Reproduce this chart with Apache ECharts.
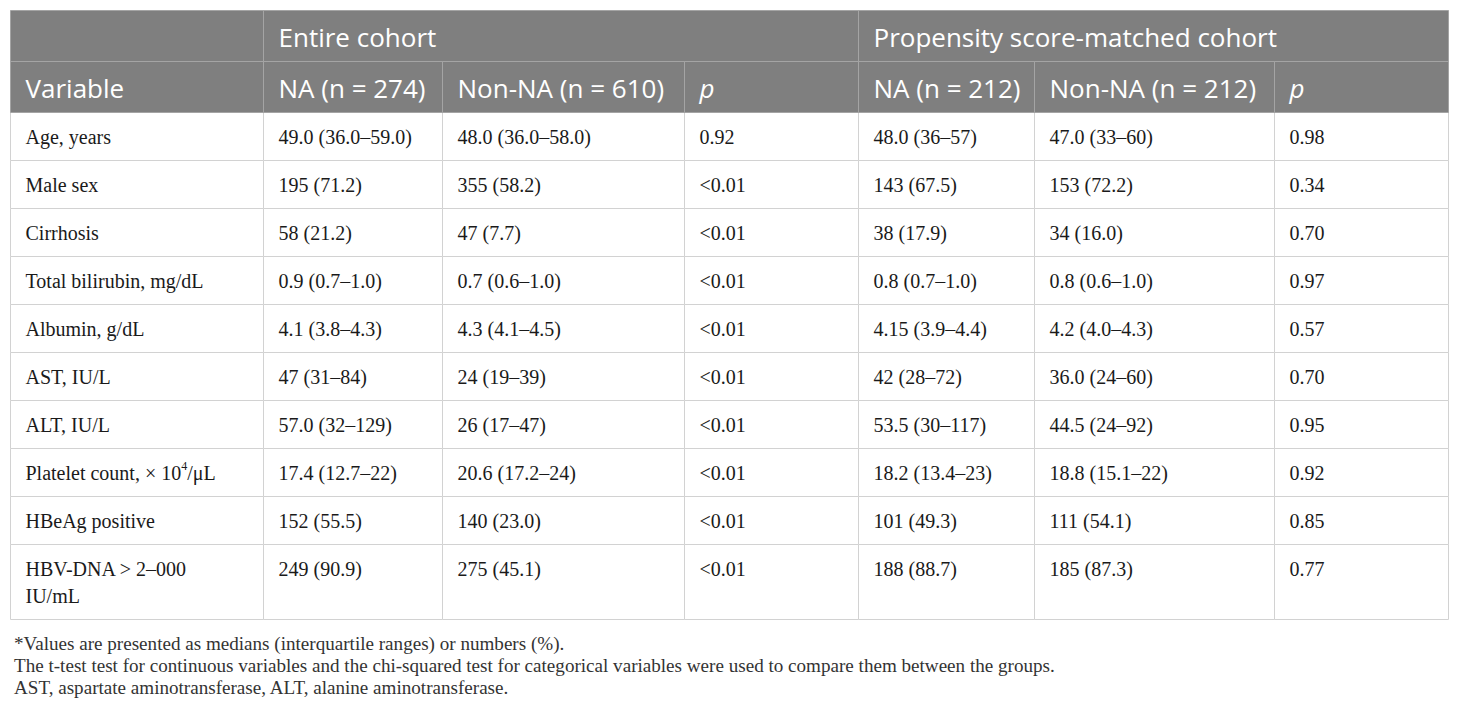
<!DOCTYPE html>
<html lang="en">
<head>
<meta charset="UTF-8">
<title>NA vs Non-NA cohort characteristics</title>
<script src="https://cdn.jsdelivr.net/npm/echarts@6/dist/echarts.min.js"></script>
<style>
    html, body { margin: 0; padding: 0; background: #fff; }
    #main { width: 1460px; height: 708px; }
</style>
</head>
<body>
<div id="main"></div>
<script>
    // table content
    var groupHeaders = ['Entire cohort', 'Propensity score-matched cohort'];
    var columnHeaders = ['Variable', 'NA (n = 274)', 'Non-NA (n = 610)', 'p', 'NA (n = 212)', 'Non-NA (n = 212)', 'p'];
    var variables = ['Age, years', 'Male sex', 'Cirrhosis', 'Total bilirubin, mg/dL', 'Albumin, g/dL',
        'AST, IU/L', 'ALT, IU/L', 'Platelet count, × 10{sup|4}/μL', 'HBeAg positive', 'HBV-DNA > 2–000\nIU/mL'];
    var entireNA = ['49.0 (36.0–59.0)', '195 (71.2)', '58 (21.2)', '0.9 (0.7–1.0)', '4.1 (3.8–4.3)',
        '47 (31–84)', '57.0 (32–129)', '17.4 (12.7–22)', '152 (55.5)', '249 (90.9)'];
    var entireNonNA = ['48.0 (36.0–58.0)', '355 (58.2)', '47 (7.7)', '0.7 (0.6–1.0)', '4.3 (4.1–4.5)',
        '24 (19–39)', '26 (17–47)', '20.6 (17.2–24)', '140 (23.0)', '275 (45.1)'];
    var entireP = ['0.92', '<0.01', '<0.01', '<0.01', '<0.01', '<0.01', '<0.01', '<0.01', '<0.01', '<0.01'];
    var matchedNA = ['48.0 (36–57)', '143 (67.5)', '38 (17.9)', '0.8 (0.7–1.0)', '4.15 (3.9–4.4)',
        '42 (28–72)', '53.5 (30–117)', '18.2 (13.4–23)', '101 (49.3)', '188 (88.7)'];
    var matchedNonNA = ['47.0 (33–60)', '153 (72.2)', '34 (16.0)', '0.8 (0.6–1.0)', '4.2 (4.0–4.3)',
        '36.0 (24–60)', '44.5 (24–92)', '18.8 (15.1–22)', '111 (54.1)', '185 (87.3)'];
    var matchedP = ['0.98', '0.34', '0.70', '0.97', '0.57', '0.70', '0.95', '0.92', '0.85', '0.77'];
    var footnotes = [
        '*Values are presented as medians (interquartile ranges) or numbers (%).',
        'The t-test test for continuous variables and the chi-squared test for categorical variables were used to compare them between the groups.',
        'AST, aspartate aminotransferase, ALT, alanine aminotransferase.'
    ];

    // layout
    var colWidths = [253, 179, 242, 174, 176, 240, 174];
    var headRowH = 51, bodyRowH = 48, extraLineH = 27;
    var pad = 15;
    var headFont = 'Open Sans', bodyFont = 'Liberation Serif';

    var colStart = [0];
    colWidths.forEach(function (w, i) { colStart.push(colStart[i] + w); });
    var totalW = colStart[colStart.length - 1];

    var columns = [variables, entireNA, entireNonNA, entireP, matchedNA, matchedNonNA, matchedP];
    var cells = [];
    function addCell(c0, c1, y0, y1, text, kind, italic) {
        cells.push({ box: [colStart[c0], y0, colStart[c1], y1], text: text, kind: kind, italic: !!italic });
    }
    // header rows
    addCell(0, 1, 0, headRowH, '', 'head');
    addCell(1, 4, 0, headRowH, groupHeaders[0], 'head');
    addCell(4, 7, 0, headRowH, groupHeaders[1], 'head');
    columnHeaders.forEach(function (t, i) {
        addCell(i, i + 1, headRowH, headRowH * 2, t, 'head', t === 'p');
    });
    // body rows
    var y = headRowH * 2;
    variables.forEach(function (v, r) {
        var lines = v.split('\n').length;
        var h = bodyRowH + (lines - 1) * extraLineH;
        columns.forEach(function (col, c) {
            addCell(c, c + 1, y, y + h, col[r], 'body');
        });
        y += h;
    });
    var totalH = y;

    function renderCell(params, api) {
        var cell = cells[params.dataIndex];
        var p0 = api.coord([api.value(0), api.value(1)]);
        var p1 = api.coord([api.value(2), api.value(3)]);
        var head = cell.kind === 'head';
        var children = [{
            type: 'rect',
            shape: { x: p0[0], y: p0[1], width: p1[0] - p0[0], height: p1[1] - p0[1] },
            style: { fill: head ? '#7f7f7f' : '#fff', stroke: head ? '#a4a4a4' : '#d2d2d2', lineWidth: 1 },
            z2: head ? 2 : 1
        }];
        if (cell.text) {
            children.push({
                type: 'text',
                x: p0[0] + pad,
                y: head ? (p0[1] + p1[1]) / 2 + 1 : p0[1] + 11,
                z2: 3,
                style: head ? {
                    text: cell.text, fill: '#fff', fontFamily: headFont, fontSize: 26,
                    fontStyle: cell.italic ? 'italic' : 'normal', align: 'left', verticalAlign: 'middle'
                } : {
                    text: cell.text, fill: '#1a1a1a', fontFamily: bodyFont, fontSize: 20, lineHeight: 27,
                    align: 'left', verticalAlign: 'top',
                    rich: {
                        sup: { fontFamily: bodyFont, fontSize: 12, lineHeight: 16, verticalAlign: 'top', fill: '#1a1a1a' }
                    }
                }
            });
        }
        return { type: 'group', children: children };
    }

    var chart = echarts.init(document.getElementById('main'), null, { renderer: 'svg' });
    var option = {
        animation: false,
        title: {
            left: 9,
            top: 627,
            text: footnotes.join('\n'),
            textStyle: { fontFamily: bodyFont, fontSize: 19.1, fontWeight: 'normal', color: '#333', lineHeight: 22 }
        },
        grid: { left: 10.5, top: 10.5, width: totalW, height: totalH },
        xAxis: { type: 'value', min: 0, max: totalW, show: false },
        yAxis: { type: 'value', min: 0, max: totalH, inverse: true, show: false },
        series: [{
            type: 'custom',
            clip: false,
            renderItem: renderCell,
            encode: { x: [0, 2], y: [1, 3] },
            data: cells.map(function (c) { return c.box; })
        }]
    };
    chart.setOption(option);
</script>
</body>
</html>
